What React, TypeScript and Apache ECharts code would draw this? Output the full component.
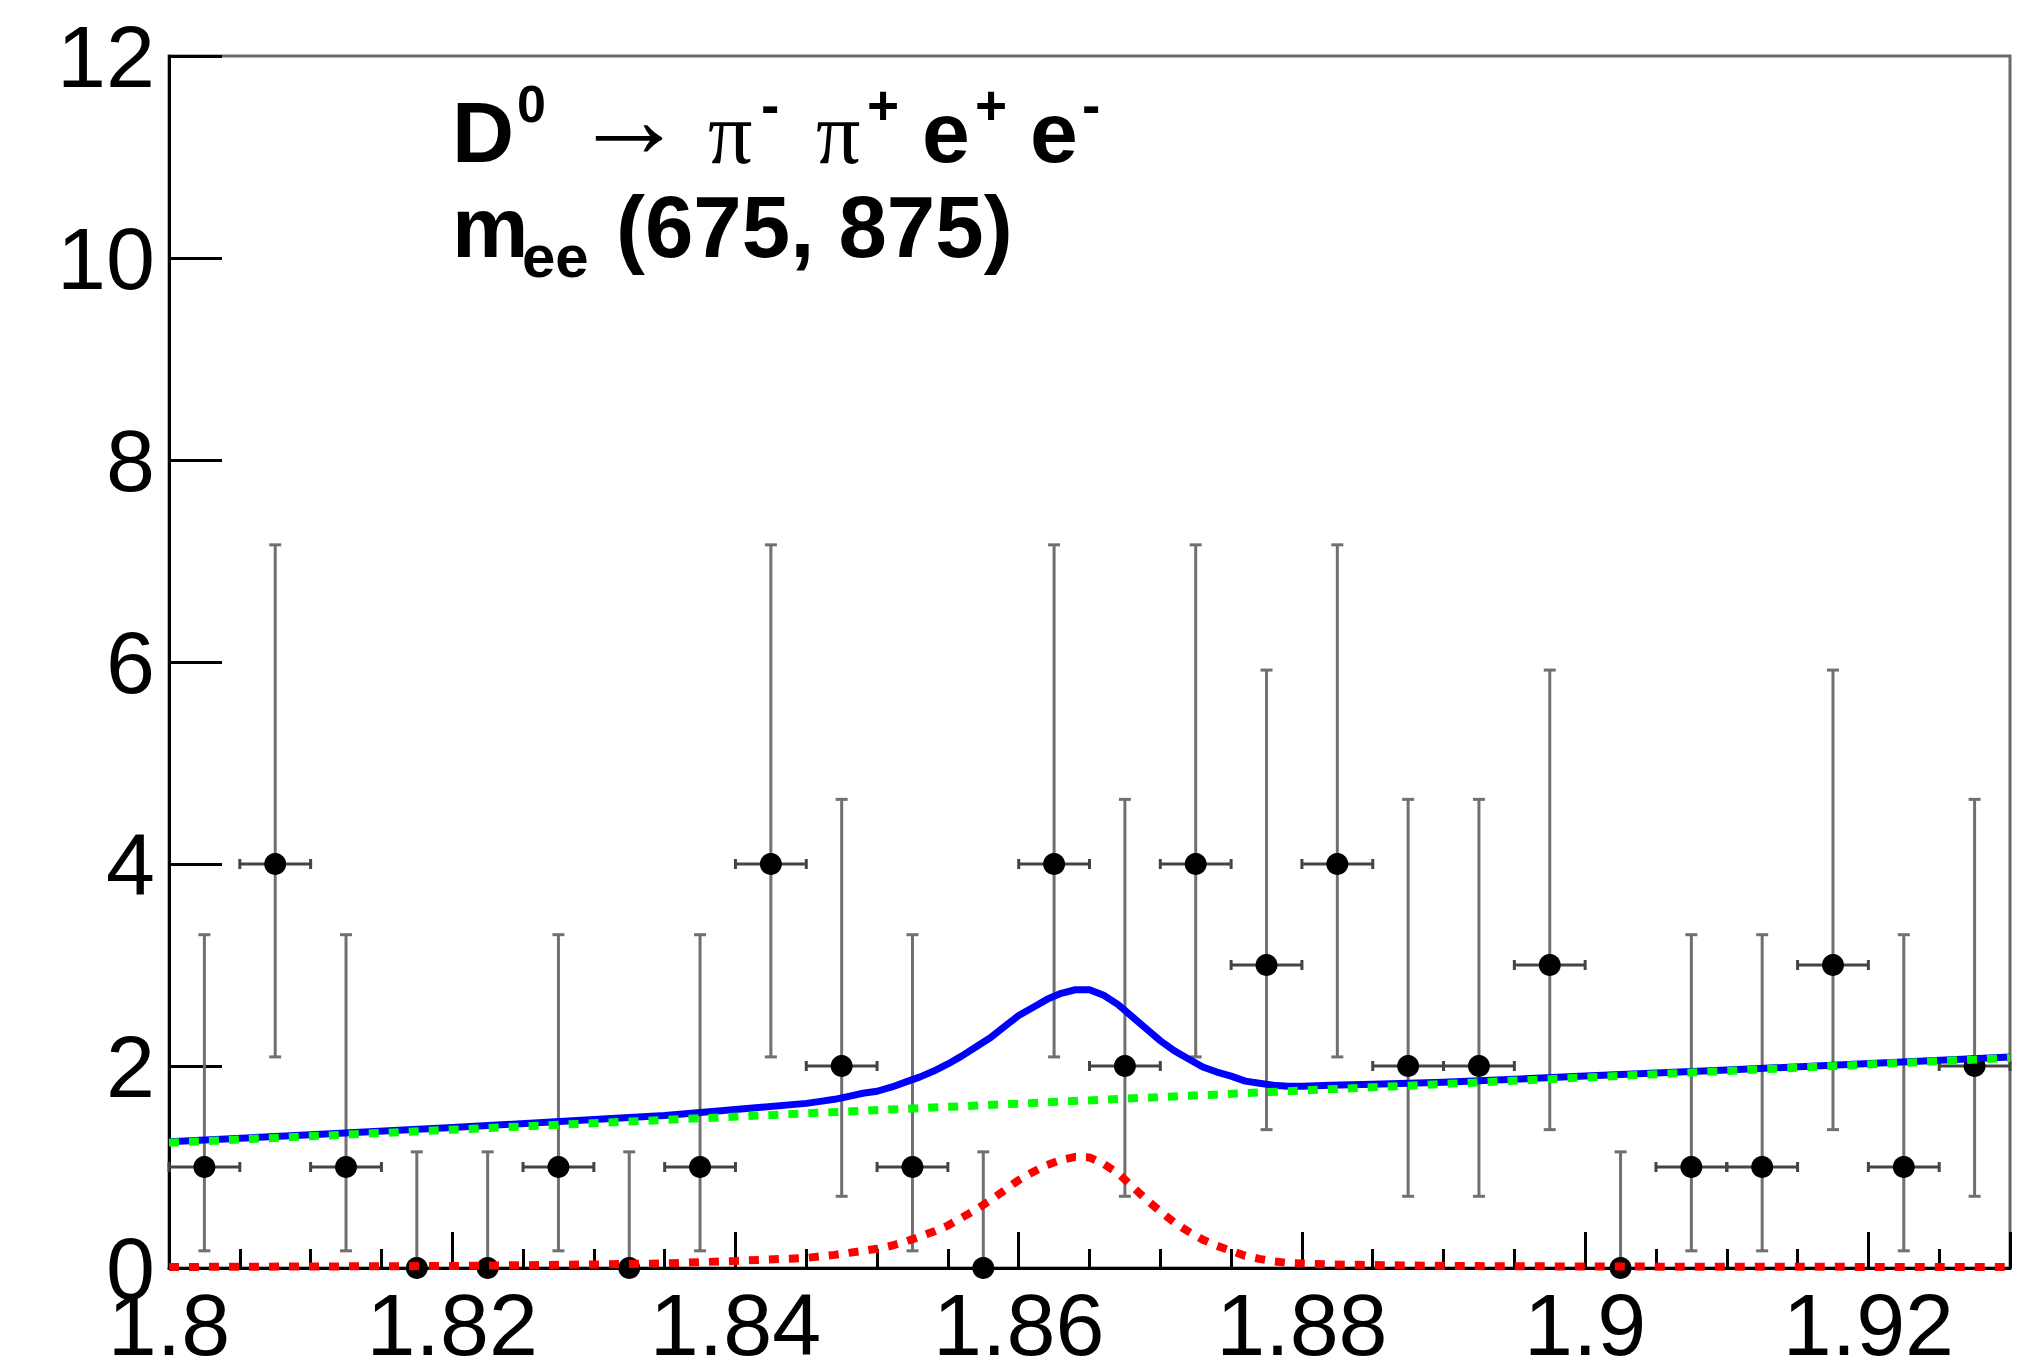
import React, { useEffect, useRef } from "react";
import * as echarts from "echarts";

// ---- data ----
const binCenters = [
  1.8025, 1.8075, 1.8125, 1.8175, 1.8225, 1.8275, 1.8325, 1.8375, 1.8425, 1.8475,
  1.8525, 1.8575, 1.8625, 1.8675, 1.8725, 1.8775, 1.8825, 1.8875, 1.8925, 1.8975,
  1.9025, 1.9075, 1.9125, 1.9175, 1.9225, 1.9275,
];
const counts = [1, 4, 1, 0, 0, 1, 0, 1, 4, 2, 1, 0, 4, 2, 4, 3, 4, 2, 2, 3, 0, 1, 1, 3, 1, 2];
const errLow = [
  0.17, 2.09, 0.17, 0, 0, 0.17, 0, 0.17, 2.09, 0.71, 0.17, 0, 2.09, 0.71, 2.09, 1.37,
  2.09, 0.71, 0.71, 1.37, 0, 0.17, 0.17, 1.37, 0.17, 0.71,
];
const errHigh = [
  3.3, 7.16, 3.3, 1.15, 1.15, 3.3, 1.15, 3.3, 7.16, 4.64, 3.3, 1.15, 7.16, 4.64, 7.16, 5.92,
  7.16, 4.64, 4.64, 5.92, 1.15, 3.3, 3.3, 5.92, 3.3, 4.64,
];
const binHalfWidth = 0.0025;

// fitted curves
const curveX = [
  1.8, 1.81, 1.82, 1.83, 1.835, 1.84,
  1.845, 1.846, 1.847, 1.848, 1.849, 1.85, 1.851, 1.852, 1.853, 1.854, 1.855, 1.856,
  1.857, 1.858, 1.859, 1.86, 1.861, 1.862, 1.863, 1.864, 1.865, 1.866, 1.867, 1.868,
  1.869, 1.87, 1.871, 1.872, 1.873, 1.874, 1.875, 1.876, 1.877, 1.878, 1.879, 1.88,
  1.882, 1.885, 1.89, 1.9, 1.91, 1.93,
];
const signalY = [
  0.01, 0.015, 0.02, 0.035, 0.045, 0.07,
  0.1, 0.115, 0.13, 0.15, 0.17, 0.19, 0.22, 0.26, 0.31, 0.36, 0.42, 0.5,
  0.58, 0.67, 0.77, 0.87, 0.95, 1.02, 1.07, 1.1, 1.095, 1.03, 0.94, 0.81,
  0.68, 0.56, 0.45, 0.36, 0.28, 0.22, 0.17, 0.12, 0.09, 0.065, 0.05, 0.045,
  0.035, 0.03, 0.02, 0.015, 0.012, 0.01,
];
const totalY = [
  1.25, 1.32, 1.39, 1.47, 1.51, 1.57,
  1.63, 1.65, 1.67, 1.7, 1.73, 1.75, 1.79, 1.84, 1.89, 1.95, 2.02, 2.1,
  2.19, 2.28, 2.39, 2.5, 2.58, 2.66, 2.72, 2.755, 2.755, 2.7, 2.61, 2.49,
  2.37, 2.25, 2.15, 2.07, 1.99, 1.94, 1.9, 1.85, 1.83, 1.81, 1.8, 1.8,
  1.81, 1.82, 1.84, 1.9, 1.96, 2.09,
];
const backgroundX = [1.8, 1.93];
const backgroundY = [1.24, 2.08];

const xTicks = { min: 1.8, max: 1.93, interval: 0.02 };
const yTicks = { min: 0, max: 12, interval: 2 };

const SANS = '"Liberation Sans", Arial, Helvetica, sans-serif';
const SERIF = '"Liberation Serif", "Times New Roman", serif';

function T(text: string, x: number, baseline: number, size: number, bold: boolean, serif = false) {
  const k = serif ? 0.3375 : 0.3465;
  return {
    type: "text",
    x,
    y: baseline - k * size,
    silent: true,
    z: 100,
    style: {
      text,
      font: `${bold ? "bold " : ""}${size}px ${serif ? SERIF : SANS}`,
      fill: "#000",
      align: "left",
      verticalAlign: "middle",
      textAlign: "left",
      textVerticalAlign: "middle",
    },
  };
}

export default function App() {
  const ref = useRef<HTMLDivElement>(null);
  useEffect(() => {
    if (!ref.current) return;
    const chart = echarts.init(ref.current, null, { renderer: "svg" });
    const points = binCenters.map((x, i) => [x, counts[i]]);
    const errData = binCenters.map((x, i) => [x, counts[i], errLow[i], errHigh[i]]);
    const zip = (xs: number[], ys: number[]) => xs.map((x, i) => [x, ys[i]]);

    const fmt = (v: number) => String(parseFloat(v.toFixed(3)));

    chart.setOption({
      animation: false,
      backgroundColor: "#fff",
      grid: {
        left: 169,
        top: 56,
        right: 30,
        bottom: 94,
        show: true,
        borderColor: "#6a6a6a",
        borderWidth: 3,
        outerBoundsMode: "none",
        containLabel: false,
      },
      xAxis: {
        type: "value",
        min: xTicks.min,
        max: xTicks.max,
        interval: xTicks.interval,
        axisLine: { show: true, onZero: false, lineStyle: { color: "#000", width: 3 } },
        axisTick: { show: true, inside: true, length: 36, lineStyle: { color: "#000", width: 3 } },
        minorTick: { show: true, splitNumber: 4, length: 19, lineStyle: { color: "#000", width: 3 } },
        splitLine: { show: false },
        axisLabel: {
          show: true,
          margin: 21,
          lineHeight: 70,
          color: "#000",
          fontSize: 88,
          fontFamily: SANS,
          showMaxLabel: false,
          formatter: fmt,
        },
      },
      yAxis: {
        type: "value",
        min: yTicks.min,
        max: yTicks.max,
        interval: yTicks.interval,
        axisLine: { show: true, lineStyle: { color: "#000", width: 3 } },
        axisTick: { show: true, inside: true, length: 53, lineStyle: { color: "#000", width: 3 } },
        splitLine: { show: false },
        axisLabel: {
          show: true,
          margin: 14,
          color: "#000",
          fontSize: 88,
          fontFamily: SANS,
          formatter: fmt,
        },
      },
      series: [
        {
          type: "custom",
          z: 1,
          data: errData,
          encode: { x: 0, y: 1 },
          renderItem: (params: any, api: any) => {
            const x = api.value(0);
            const y = api.value(1);
            const lo = api.value(2);
            const hi = api.value(3);
            const top = api.coord([x, hi]);
            const bot = api.coord([x, lo]);
            const c = api.coord([x, y]);
            const l = api.coord([x - binHalfWidth, y]);
            const r = api.coord([x + binHalfWidth, y]);
            const vs = { stroke: "#707070", lineWidth: 3 };
            const hs = { stroke: "#444", lineWidth: 3 };
            const cap = 6;
            const children: any[] = [
              { type: "line", shape: { x1: top[0], y1: top[1], x2: bot[0], y2: bot[1] }, style: vs },
              { type: "line", shape: { x1: top[0] - cap, y1: top[1], x2: top[0] + cap, y2: top[1] }, style: vs },
            ];
            if (lo > 0) {
              children.push({ type: "line", shape: { x1: bot[0] - cap, y1: bot[1], x2: bot[0] + cap, y2: bot[1] }, style: vs });
            }
            if (y > 0) {
              children.push({ type: "line", shape: { x1: l[0], y1: c[1], x2: r[0], y2: c[1] }, style: hs });
              children.push({ type: "line", shape: { x1: l[0], y1: c[1] - 5, x2: l[0], y2: c[1] + 5 }, style: hs });
              children.push({ type: "line", shape: { x1: r[0], y1: c[1] - 5, x2: r[0], y2: c[1] + 5 }, style: hs });
            }
            return { type: "group", children };
          },
        },
        {
          type: "scatter",
          z: 2,
          data: points,
          symbol: "circle",
          symbolSize: 22,
          itemStyle: { color: "#000", opacity: 1 },
        },
        {
          type: "line",
          z: 3,
          data: zip(curveX, totalY),
          showSymbol: false,
          smooth: false,
          lineStyle: { color: "#0000ff", width: 7, join: "round" },
        },
        {
          type: "line",
          z: 4,
          data: zip(backgroundX, backgroundY),
          showSymbol: false,
          lineStyle: { color: "#00ff00", width: 8, type: [10, 10], cap: "butt" },
        },
        {
          type: "line",
          z: 5,
          data: zip(curveX, signalY),
          showSymbol: false,
          smooth: false,
          lineStyle: { color: "#ff0000", width: 8, type: [10, 10], cap: "butt" },
        },
      ],
      graphic: {
        elements: [
          T("D", 452, 162, 86, true),
          T("0", 517, 122, 52, true),
          {
            type: "text",
            x: 629,
            y: 118,
            silent: true,
            z: 100,
            style: {
              text: "\u2192",
              font: `112px ${SANS}`,
              fill: "#000",
              align: "center",
              verticalAlign: "middle",
              textAlign: "center",
              textVerticalAlign: "middle",
            },
          },
          T("\u03c0", 708, 163, 88, false, true),
          T("-", 761, 124, 55, true),
          T("\u03c0", 816, 163, 88, false, true),
          T("+", 867, 124, 55, true),
          T("e", 922, 162, 86, true),
          T("+", 975, 124, 55, true),
          T("e", 1030, 162, 86, true),
          T("-", 1082, 124, 55, true),
          T("m", 452, 257, 86, true),
          T("ee", 522, 277, 60, true),
          T("(675, 875)", 616, 257, 87, true),
        ],
      },
    });
    return () => chart.dispose();
  }, []);
  return (
    <div
      ref={ref}
      style={{ position: "fixed", left: 0, top: 0, width: 2040, height: 1362, background: "#fff" }}
    />
  );
}
